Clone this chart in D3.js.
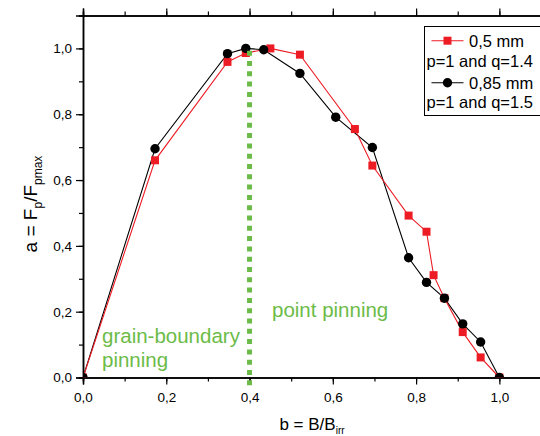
<!DOCTYPE html>
<html>
<head>
<meta charset="utf-8">
<script src="https://cdn.jsdelivr.net/npm/d3@7/dist/d3.min.js"></script>
<style>
  html, body { margin: 0; padding: 0; background: #fff; }
  svg { display: block; font-family: "Liberation Sans", Arial, sans-serif; }
</style>
</head>
<body>
<svg id="chart" width="540" height="436"></svg>
<script>
// Reduced field b = B/B_irr and normalised pinning force a = Fp/Fpmax
const bThin  = [0.0, 0.173, 0.347, 0.391, 0.450, 0.521, 0.653, 0.695, 0.782, 0.825, 0.842, 0.868, 0.912, 0.955, 1.0];
const aThin  = [0.0, 0.660, 0.959, 0.986, 1.000, 0.981, 0.755, 0.644, 0.492, 0.443, 0.311, 0.241, 0.138, 0.061, 0.0];
const bThick = [0.0, 0.173, 0.347, 0.391, 0.434, 0.521, 0.607, 0.695, 0.782, 0.825, 0.868, 0.912, 0.955, 1.0];
const aThick = [0.0, 0.695, 0.984, 1.000, 0.996, 0.924, 0.791, 0.699, 0.364, 0.289, 0.241, 0.163, 0.108, 0.0];

const seriesNames = ["0,5 mm", "0,85 mm"];
const seriesNotes = ["p=1 and q=1.4", "p=1 and q=1.5"];
const xTicks = [0, 0.2, 0.4, 0.6, 0.8, 1.0];
const yTicks = [0, 0.2, 0.4, 0.6, 0.8, 1.0];
const boundary = 0.4;   // crossover between the two pinning regimes
const regionLabels = [["grain-boundary", "pinning"], ["point pinning"]];

const RED = "#ed1c24", BLACK = "#000", GREEN = "#6cbb48";

const svg = d3.select("#chart");
const pL = 83, pR = 541, pT = 15.5, pB = 377.5;

const x = d3.scaleLinear().domain([0, 1.1]).range([pL, pR]);
const y = d3.scaleLinear().domain([0, 1.1]).range([pB, pT]);
const fmt = v => d3.format(".1f")(v).replace(".", ",");

svg.append("defs").append("clipPath").attr("id", "plot")
  .append("rect").attr("x", pL).attr("y", pT)
  .attr("width", pR - pL).attr("height", pB - pT);

// minor ticks
const minor = d3.range(0, 1.11, 0.1);
function drawAxis(gen, transform, showLabels) {
  const g = svg.append("g").attr("transform", transform).call(gen);
  g.select(".domain").attr("stroke-width", 1.5);
  g.selectAll(".tick line").attr("stroke-width", 1.2);
  g.selectAll("text").attr("font-size", 13.5).attr("fill", "#000")
    .attr("font-family", "'Liberation Sans', Arial, sans-serif");
  if (!showLabels) g.selectAll("text").remove();
  return g;
}
drawAxis(d3.axisBottom(x).tickValues(minor).tickSize(4).tickFormat(""), `translate(0,${pB})`, false);
drawAxis(d3.axisBottom(x).tickValues(xTicks).tickSize(7).tickPadding(8).tickFormat(fmt), `translate(0,${pB})`, true);
drawAxis(d3.axisTop(x).tickValues(minor).tickSize(4).tickFormat(""), `translate(0,${pT})`, false);
drawAxis(d3.axisTop(x).tickValues(xTicks).tickSize(7).tickFormat(""), `translate(0,${pT})`, false);
drawAxis(d3.axisLeft(y).tickValues(minor).tickSize(4).tickFormat(""), `translate(${pL},0)`, false);
drawAxis(d3.axisLeft(y).tickValues(yTicks).tickSize(7).tickPadding(4).tickFormat(fmt), `translate(${pL},0)`, true);
drawAxis(d3.axisRight(y).tickValues(yTicks).tickSize(7).tickFormat(""), `translate(${pR},0)`, false);

// axis titles
const xt = svg.append("text").attr("x", (pL + pR) / 2).attr("y", 430)
  .attr("text-anchor", "middle").attr("font-size", 17);
xt.append("tspan").text("b = B/B");
xt.append("tspan").attr("font-size", 10).attr("dy", 4).text("irr");

const yt = svg.append("text").attr("transform", "translate(37,204) rotate(-90)")
  .attr("text-anchor", "middle").attr("font-size", 19);
yt.append("tspan").text("a = F");
yt.append("tspan").attr("font-size", 12).attr("dy", 5).text("p");
yt.append("tspan").attr("dy", -5).text("/F");
yt.append("tspan").attr("font-size", 12).attr("dy", 5).text("pmax");

// data
const plot = svg.append("g").attr("clip-path", "url(#plot)");
const line = d3.line().x(d => x(d[0])).y(d => y(d[1]));
const thin = bThin.map((b, i) => [b, aThin[i]]);
const thick = bThick.map((b, i) => [b, aThick[i]]);

plot.append("path").datum(thick).attr("d", line).attr("fill", "none")
  .attr("stroke", BLACK).attr("stroke-width", 1.1);
plot.append("path").datum(thin).attr("d", line).attr("fill", "none")
  .attr("stroke", RED).attr("stroke-width", 1.1);

plot.selectAll(".sq").data(thin).join("rect")
  .attr("x", d => x(d[0]) - 4).attr("y", d => y(d[1]) - 4)
  .attr("width", 8).attr("height", 8).attr("fill", RED);
plot.selectAll(".ci").data(thick).join("circle")
  .attr("cx", d => x(d[0])).attr("cy", d => y(d[1])).attr("r", 4.7).attr("fill", BLACK);

// regime boundary
svg.append("line")
  .attr("x1", x(boundary)).attr("x2", x(boundary))
  .attr("y1", y(0.993)).attr("y2", y(-0.03))
  .attr("stroke", GREEN).attr("stroke-width", 5).attr("stroke-dasharray", "5,5.3");

// regime labels
const gl = svg.append("text").attr("fill", GREEN).attr("font-size", 20.5);
gl.append("tspan").attr("x", 102).attr("y", 343).text(regionLabels[0][0]);
gl.append("tspan").attr("x", 102).attr("y", 366.5).text(regionLabels[0][1]);
svg.append("text").attr("fill", GREEN).attr("font-size", 20.5)
  .attr("x", 272).attr("y", 316.5).text(regionLabels[1][0]);

// legend
const lg = svg.append("g");
lg.append("rect").attr("x", 424.5).attr("y", 26.5).attr("width", 130).attr("height", 89)
  .attr("fill", "#fff").attr("stroke", "#000").attr("stroke-width", 1);
[[RED, 40.7, 46.7, 67.3], [BLACK, 82.7, 88.7, 108.3]].forEach((r, i) => {
  lg.append("line").attr("x1", 431.5).attr("x2", 463.5).attr("y1", r[1]).attr("y2", r[1])
    .attr("stroke", r[0]).attr("stroke-width", 1.1);
  if (i === 0) lg.append("rect").attr("x", 447.5 - 4).attr("y", r[1] - 4).attr("width", 8).attr("height", 8).attr("fill", RED);
  else lg.append("circle").attr("cx", 447.5).attr("cy", r[1]).attr("r", 4.7).attr("fill", BLACK);
  lg.append("text").attr("x", 469).attr("y", r[2]).attr("font-size", 16.5).text(seriesNames[i]);
  lg.append("text").attr("x", 426.5).attr("y", r[3]).attr("font-size", 16.5).text(seriesNotes[i]);
});
</script>
</body>
</html>
